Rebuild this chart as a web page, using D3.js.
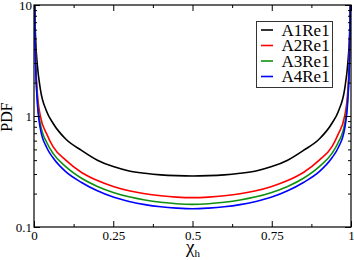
<!DOCTYPE html>
<html>
<head>
<meta charset="utf-8">
<script src="https://cdn.jsdelivr.net/npm/d3@7"></script>
<style>
  body { margin: 0; background: #fff; }
  svg { display: block; font-family: "Liberation Serif", "DejaVu Serif", serif; }
</style>
</head>
<body>
<div id="chart"></div>
<script>
// chi_h sample positions and PDF values
var chi = [0.001, 0.002, 0.005, 0.01, 0.02, 0.04, 0.06, 0.1, 0.15, 0.2, 0.25, 0.3, 0.35, 0.4, 0.45, 0.5,
           0.55, 0.6, 0.65, 0.7, 0.75, 0.8, 0.85, 0.9, 0.94, 0.96, 0.98, 0.99, 0.995, 0.998, 0.999];
var a1 = [16, 10, 5.0, 3.0, 1.75, 1.1, 0.86, 0.62, 0.49, 0.40, 0.35, 0.32, 0.305, 0.295, 0.29, 0.288,
          0.29, 0.295, 0.305, 0.32, 0.35, 0.40, 0.49, 0.62, 0.86, 1.1, 1.75, 3.0, 5.0, 10, 16];
var a2 = [16, 10, 3.5, 1.7, 1.0, 0.69, 0.53, 0.40, 0.31, 0.262, 0.232, 0.212, 0.199, 0.191, 0.186, 0.184,
          0.186, 0.191, 0.199, 0.212, 0.232, 0.262, 0.31, 0.40, 0.53, 0.69, 1.0, 1.7, 3.5, 10, 16];
var a3 = [16, 10, 3.2, 1.5, 0.85, 0.58, 0.46, 0.35, 0.275, 0.232, 0.205, 0.187, 0.175, 0.167, 0.162, 0.160,
          0.162, 0.167, 0.175, 0.187, 0.205, 0.232, 0.275, 0.35, 0.46, 0.58, 0.85, 1.5, 3.2, 10, 16];
var a4 = [16, 10, 3.0, 1.4, 0.77, 0.52, 0.42, 0.315, 0.252, 0.212, 0.186, 0.17, 0.159, 0.152, 0.148, 0.146,
          0.148, 0.152, 0.159, 0.17, 0.186, 0.212, 0.252, 0.315, 0.42, 0.52, 0.77, 1.4, 3.0, 10, 16];

var seriesNames = ['A1Re1', 'A2Re1', 'A3Re1', 'A4Re1'];
var seriesColors = ['#000000', '#ff0000', '#109010', '#0000ff'];
var seriesValues = [a1, a2, a3, a4];

var xMajor = [0, 0.25, 0.5, 0.75, 1];
var xMajorLabels = ['0', '0.25', '0.5', '0.75', '1'];
var xMinor = [0.125, 0.375, 0.625, 0.875];
var yMajor = [0.1, 1, 10];
var yMajorLabels = ['0.1', '1', '10'];
var yMinor = [0.2, 0.3, 0.4, 0.5, 0.6, 0.7, 0.8, 0.9, 2, 3, 4, 5, 6, 7, 8, 9];

var width = 354, height = 260;
var plotLeft = 34, plotRight = 351, plotTop = 5, plotBottom = 227;

var svg = d3.select('#chart').append('svg')
    .attr('width', width)
    .attr('height', height);

var x = d3.scaleLinear().domain([0, 1]).range([plotLeft, plotRight]);
var y = d3.scaleLog().domain([0.1, 10]).range([plotBottom, plotTop]);

svg.append('clipPath').attr('id', 'clip')
  .append('rect')
    .attr('x', plotLeft).attr('y', plotTop)
    .attr('width', plotRight - plotLeft).attr('height', plotBottom - plotTop);

// curves
var line = d3.line()
    .x(function(d) { return x(d[0]); })
    .y(function(d) { return y(d[1]); })
    .curve(d3.curveMonotoneX);

var plot = svg.append('g').attr('clip-path', 'url(#clip)');
seriesValues.forEach(function(vals, i) {
    plot.append('path')
        .datum(chi.map(function(c, j) { return [c, vals[j]]; }))
        .attr('fill', 'none')
        .attr('stroke', seriesColors[i])
        .attr('stroke-width', 1.6)
        .attr('d', line);
});

// axes, ticks pointing inward
function styleAxis(g) {
    g.select('.domain').remove();
    g.selectAll('line').attr('stroke', '#000').attr('stroke-width', 1);
    g.selectAll('text').attr('fill', '#000').attr('font-size', 13)
        .attr('font-family', '"Liberation Serif", serif');
}

svg.append('g').attr('transform', 'translate(0,' + plotBottom + ')')
    .call(d3.axisBottom(x).tickValues(xMajor).tickSize(-6).tickPadding(4)
        .tickFormat(function(d, i) { return xMajorLabels[i]; }))
    .call(styleAxis);
svg.append('g').attr('transform', 'translate(0,' + plotBottom + ')')
    .call(d3.axisBottom(x).tickValues(xMinor).tickSize(-3).tickFormat(''))
    .call(styleAxis);
svg.append('g').attr('transform', 'translate(0,' + plotTop + ')')
    .call(d3.axisTop(x).tickValues(xMajor).tickSize(-6).tickFormat(''))
    .call(styleAxis);
svg.append('g').attr('transform', 'translate(0,' + plotTop + ')')
    .call(d3.axisTop(x).tickValues(xMinor).tickSize(-3).tickFormat(''))
    .call(styleAxis);

svg.append('g').attr('transform', 'translate(' + plotLeft + ',0)')
    .call(d3.axisLeft(y).tickValues(yMajor).tickSize(-6).tickPadding(2)
        .tickFormat(function(d, i) { return yMajorLabels[i]; }))
    .call(styleAxis);
svg.append('g').attr('transform', 'translate(' + plotLeft + ',0)')
    .call(d3.axisLeft(y).tickValues(yMinor).tickSize(-3).tickFormat(''))
    .call(styleAxis);
svg.append('g').attr('transform', 'translate(' + plotRight + ',0)')
    .call(d3.axisRight(y).tickValues(yMajor).tickSize(-6).tickFormat(''))
    .call(styleAxis);
svg.append('g').attr('transform', 'translate(' + plotRight + ',0)')
    .call(d3.axisRight(y).tickValues(yMinor).tickSize(-3).tickFormat(''))
    .call(styleAxis);

// frame
svg.append('rect')
    .attr('x', plotLeft).attr('y', plotTop)
    .attr('width', plotRight - plotLeft).attr('height', plotBottom - plotTop)
    .attr('fill', 'none')
    .attr('stroke', '#000')
    .attr('stroke-width', 1.2);

// axis titles
svg.append('text')
    .attr('transform', 'translate(12,' + ((plotTop + plotBottom) / 2 + 1) + ') rotate(-90)')
    .attr('text-anchor', 'middle')
    .attr('font-size', 16)
    .text('PDF');

var xt = svg.append('text')
    .attr('x', 193).attr('y', 253)
    .attr('text-anchor', 'middle')
    .attr('font-size', 19);
xt.append('tspan').text('\u03c7');
xt.append('tspan').attr('font-size', 11).attr('dy', 4).text('h');

// legend
var legend = svg.append('g');
legend.append('rect')
    .attr('x', 256.5).attr('y', 21.5)
    .attr('width', 76).attr('height', 66)
    .attr('fill', '#fff')
    .attr('stroke', '#333')
    .attr('stroke-width', 1);

seriesNames.forEach(function(name, i) {
    var ly = 30 + i * 15.5;
    legend.append('line')
        .attr('x1', 261).attr('x2', 273)
        .attr('y1', ly).attr('y2', ly)
        .attr('stroke', seriesColors[i])
        .attr('stroke-width', 1.6);
    legend.append('text')
        .attr('x', 281.5).attr('y', ly + 5.8)
        .attr('font-size', 17)
        .text(name);
});
</script>
</body>
</html>
